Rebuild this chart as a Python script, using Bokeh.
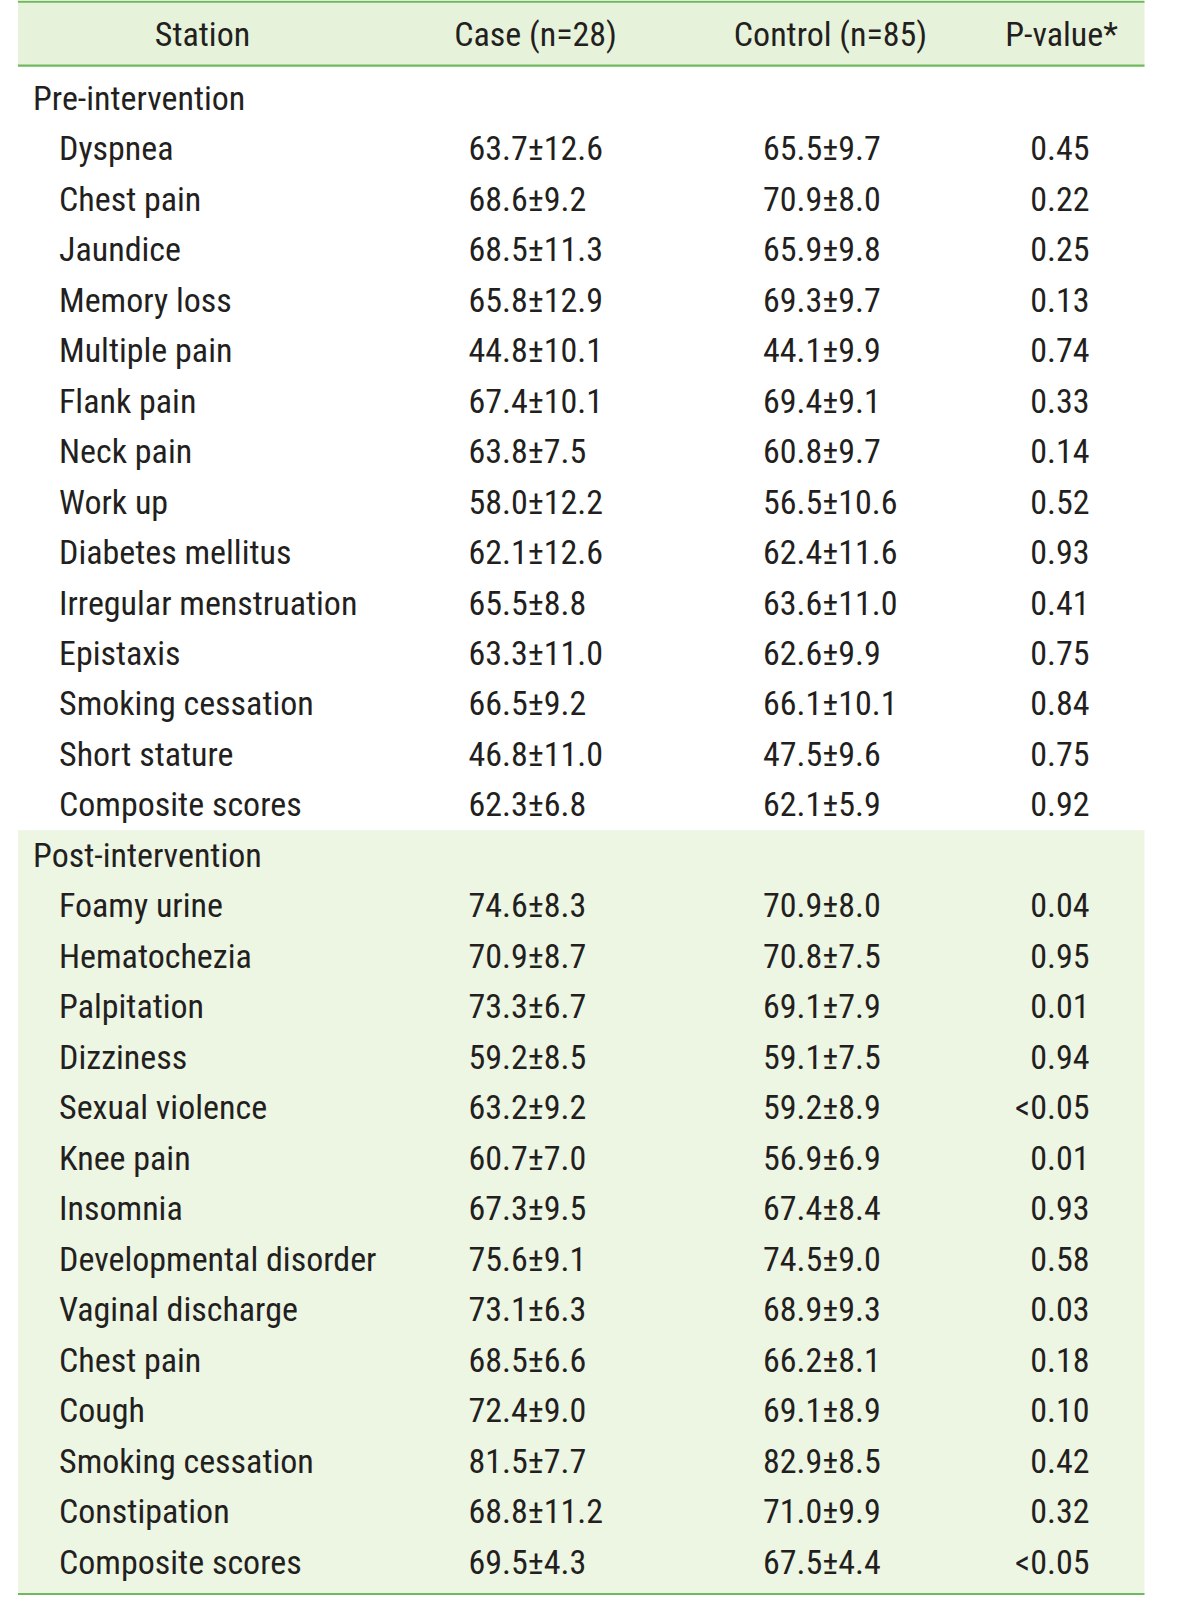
from bokeh.plotting import figure
from bokeh.models import Range1d, ColumnDataSource
from bokeh.core.properties import value
from bokeh.embed import file_html
from bokeh.resources import INLINE

# ---------------- data ----------------
headers = ["Station", "Case (n=28)", "Control (n=85)", "P-value*"]
groups = ["Pre-intervention", "Post-intervention"]

pre_stations = ["Dyspnea", "Chest pain", "Jaundice", "Memory loss", "Multiple pain",
                "Flank pain", "Neck pain", "Work up", "Diabetes mellitus",
                "Irregular menstruation", "Epistaxis", "Smoking cessation",
                "Short stature", "Composite scores"]
pre_case = ["63.7±12.6", "68.6±9.2", "68.5±11.3", "65.8±12.9", "44.8±10.1",
            "67.4±10.1", "63.8±7.5", "58.0±12.2", "62.1±12.6", "65.5±8.8",
            "63.3±11.0", "66.5±9.2", "46.8±11.0", "62.3±6.8"]
pre_control = ["65.5±9.7", "70.9±8.0", "65.9±9.8", "69.3±9.7", "44.1±9.9",
               "69.4±9.1", "60.8±9.7", "56.5±10.6", "62.4±11.6", "63.6±11.0",
               "62.6±9.9", "66.1±10.1", "47.5±9.6", "62.1±5.9"]
pre_p = ["0.45", "0.22", "0.25", "0.13", "0.74", "0.33", "0.14", "0.52", "0.93",
         "0.41", "0.75", "0.84", "0.75", "0.92"]

post_stations = ["Foamy urine", "Hematochezia", "Palpitation", "Dizziness",
                 "Sexual violence", "Knee pain", "Insomnia", "Developmental disorder",
                 "Vaginal discharge", "Chest pain", "Cough", "Smoking cessation",
                 "Constipation", "Composite scores"]
post_case = ["74.6±8.3", "70.9±8.7", "73.3±6.7", "59.2±8.5", "63.2±9.2", "60.7±7.0",
             "67.3±9.5", "75.6±9.1", "73.1±6.3", "68.5±6.6", "72.4±9.0", "81.5±7.7",
             "68.8±11.2", "69.5±4.3"]
post_control = ["70.9±8.0", "70.8±7.5", "69.1±7.9", "59.1±7.5", "59.2±8.9", "56.9±6.9",
                "67.4±8.4", "74.5±9.0", "68.9±9.3", "66.2±8.1", "69.1±8.9", "82.9±8.5",
                "71.0±9.9", "67.5±4.4"]
post_p = ["0.04", "0.95", "0.01", "0.94", "<0.05", "0.01", "0.93", "0.58", "0.03",
          "0.18", "0.10", "0.42", "0.32", "<0.05"]

# ---------------- layout ----------------
FONT = value("Roboto Condensed")
FS = "34px"
TXT = "#231f20"
GREEN = "#6fb95c"
HEAD_BG = "#e7f2da"
POST_BG = "#edf5e3"

LEFT, RIGHT = 17.5, 1144
TOP, HEAD_BOT, BOT = 1.5, 66, 1607.5
BASE0, PITCH = 110.7, 50.92
HEAD_BASE = 46.7
DY = -12.5  # renderer baseline correction

p = figure(width=1184, height=1595, x_range=Range1d(0, 1184), y_range=Range1d(1608.8, 0.3),
           output_backend="svg", toolbar_location=None, min_border=0)
p.axis.visible = False
p.grid.visible = False
p.outline_line_color = None
p.background_fill_color = "white"
p.border_fill_color = "white"

# backgrounds
post_top = BASE0 + 15 * PITCH - 37.5
p.quad(left=[LEFT, LEFT], right=[RIGHT, RIGHT], top=[TOP, post_top], bottom=[HEAD_BOT, BOT],
       fill_color=[HEAD_BG, POST_BG], line_color=None)
# rules
p.segment(x0=[LEFT] * 3, x1=[RIGHT] * 3, y0=[TOP, HEAD_BOT, BOT], y1=[TOP, HEAD_BOT, BOT],
          line_color=GREEN, line_width=2.2)

# header
hsrc = ColumnDataSource(dict(x=[202, 535, 830, 1061], y=[HEAD_BASE + DY] * 4, t=headers))
p.text(x="x", y="y", text="t", source=hsrc, text_font=FONT, text_font_size=FS,
       text_color=TXT, text_align="center", text_baseline="alphabetic")

# body rows
lab_x, lab_y, lab_t = [], [], []
case_y, case_t, ctrl_t, pv_t = [], [], [], []
row = 0
for g, st, ca, co, pv in [(groups[0], pre_stations, pre_case, pre_control, pre_p),
                          (groups[1], post_stations, post_case, post_control, post_p)]:
    lab_x.append(32.5); lab_y.append(BASE0 + row * PITCH + DY); lab_t.append(g)
    row += 1
    for s, a, b, c in zip(st, ca, co, pv):
        y = BASE0 + row * PITCH + DY
        lab_x.append(58.5); lab_y.append(y); lab_t.append(s)
        case_y.append(y); case_t.append(a); ctrl_t.append(b); pv_t.append(c)
        row += 1

common = dict(text_font=FONT, text_font_size=FS, text_color=TXT, text_baseline="alphabetic")
p.text(x="x", y="y", text="t", source=ColumnDataSource(dict(x=lab_x, y=lab_y, t=lab_t)),
       text_align="left", **common)
p.text(x="x", y="y", text="t",
       source=ColumnDataSource(dict(x=[468] * len(case_t), y=case_y, t=case_t)),
       text_align="left", **common)
p.text(x="x", y="y", text="t",
       source=ColumnDataSource(dict(x=[762.5] * len(ctrl_t), y=case_y, t=ctrl_t)),
       text_align="left", **common)
p.text(x="x", y="y", text="t",
       source=ColumnDataSource(dict(x=[1089] * len(pv_t), y=case_y, t=pv_t)),
       text_align="right", **common)

open("out.html", "w").write(file_html(p, INLINE))
